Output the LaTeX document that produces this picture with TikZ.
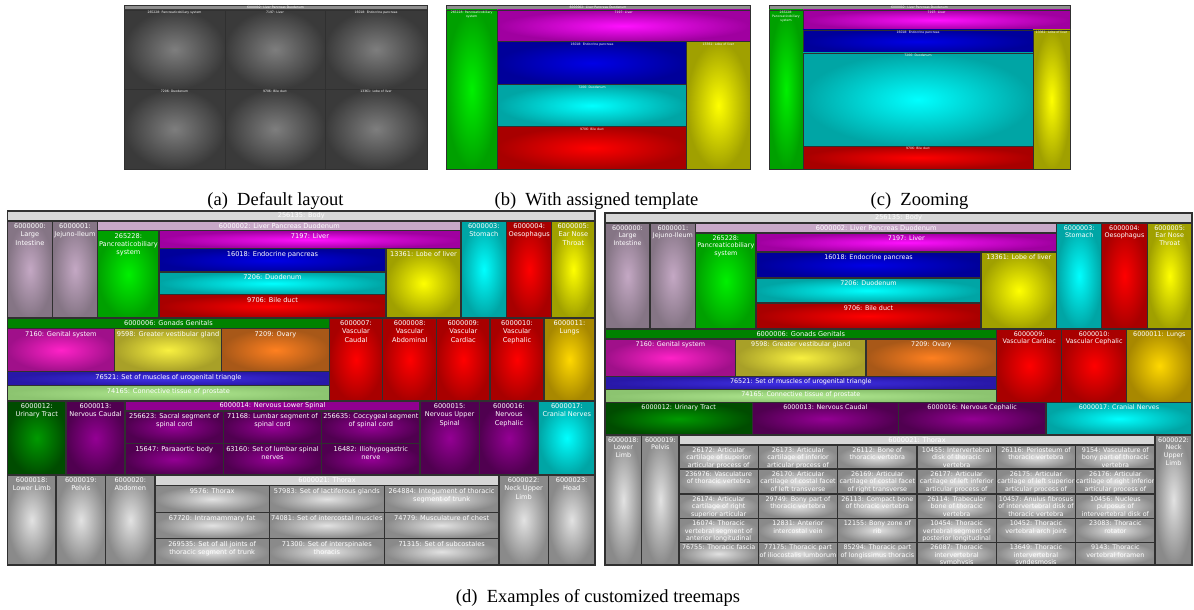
\documentclass[tikz,border=0pt]{standalone}
\usepackage{fontspec}
\newfontfamily\tmfont{DejaVu Sans}
\newfontfamily\capfont{Liberation Serif}
\definecolor{bord}{HTML}{303030}
\definecolor{mauveI}{HTML}{C4A8C4}\definecolor{mauveO}{HTML}{857585}
\definecolor{mauveH}{HTML}{C8A8C8}
\definecolor{greenI}{HTML}{00F000}\definecolor{greenO}{HTML}{00A000}
\definecolor{magI}{HTML}{FF10FF}\definecolor{magO}{HTML}{A000A0}
\definecolor{blueI}{HTML}{0000E6}\definecolor{blueO}{HTML}{00009A}
\definecolor{cyanI}{HTML}{00FFFF}\definecolor{cyanO}{HTML}{00A5A5}
\definecolor{redI}{HTML}{FF0000}\definecolor{redO}{HTML}{A80000}
\definecolor{yelI}{HTML}{FFFF00}\definecolor{yelO}{HTML}{A0A000}
\definecolor{gonH}{HTML}{008200}
\definecolor{pinkI}{HTML}{FF22C8}\definecolor{pinkO}{HTML}{A0108A}
\definecolor{yeltI}{HTML}{F8F040}\definecolor{yeltO}{HTML}{A8A028}
\definecolor{oraI}{HTML}{FF8020}\definecolor{oraO}{HTML}{A85818}
\definecolor{violI}{HTML}{4030E8}\definecolor{violO}{HTML}{2818A8}
\definecolor{lgrI}{HTML}{B0E890}\definecolor{lgrO}{HTML}{8CC470}
\definecolor{goldI}{HTML}{FFD800}\definecolor{goldO}{HTML}{A88800}
\definecolor{dgrI}{HTML}{009A00}\definecolor{dgrO}{HTML}{004C00}
\definecolor{purI}{HTML}{940094}\definecolor{purO}{HTML}{500050}
\definecolor{purH}{HTML}{900090}
\definecolor{grayI}{HTML}{E2E2E2}\definecolor{grayO}{HTML}{8A8A8A}
\definecolor{hdr}{HTML}{D6D6D6}
\definecolor{darkI}{HTML}{7E7E7E}\definecolor{darkO}{HTML}{3A3A3A}
\definecolor{panH}{HTML}{8E8E8E}
\def\cellw{1.1pt}
\tikzset{
 cell/.style 2 args={inner color=#1, outer color=#2, draw=bord, line width=\cellw},
 labL/.style={anchor=north, inner sep=0pt, yshift=-2.5pt, align=center, text=white, font=\tmfont\fontsize{6.6}{8.2}\selectfont},
 labR/.style={anchor=north, inner sep=0pt, yshift=-2.2pt, align=center, text=white, font=\tmfont\fontsize{6.4}{7.7}\selectfont},
 labS/.style={anchor=north, inner sep=0pt, yshift=-1.3pt, align=center, text=white, font=\tmfont\fontsize{3.1}{3.6}\selectfont},
 hdL/.style={anchor=center, inner sep=0pt, text=white, font=\tmfont\fontsize{6.6}{8}\selectfont},
 hdS/.style={anchor=center, inner sep=0pt, text=white, font=\tmfont\fontsize{3.1}{3.6}\selectfont},
 captext/.style={inner sep=0pt, font=\capfont\fontsize{18.5}{20}\selectfont}
}
\newcounter{cc}
\newcommand\tmcell[8]{%
  \stepcounter{cc}%
  \path[cell={#5}{#6}] (#1,#2) rectangle (#3,#4);
  \begin{scope}
    \clip (#1,#2) rectangle (#3,#4);
    \node[#8] (c\arabic{cc}) at ({(#1+#3)/2},#2) {#7};
  \end{scope}}
\newcommand\tmhead[7]{%
  \stepcounter{cc}%
  \path[fill=#5, draw=bord, line width=\cellw] (#1,#2) rectangle (#3,#4);
  \node[#7] (c\arabic{cc}) at ({(#1+#3)/2},{(#2+#4)/2}) {#6};}
\begin{document}
\begin{tikzpicture}[x=1pt,y=-1pt]
\useasboundingbox (0,0) rectangle (1194,610);
\fill[white] (0,0) rectangle (1194,610);

% ---------- (a) default layout ----------
\begin{scope}
\def\cellw{0.7pt}
\tmhead{124}{5}{427}{10}{panH}{6000002: Liver Pancreas Duodenum}{hdS}
\tmcell{124}{10}{225}{89}{darkI}{darkO}{265228: Pancreaticobiliary system}{labS}
\tmcell{225}{10}{325}{89}{darkI}{darkO}{7197: Liver}{labS}
\tmcell{325}{10}{427}{89}{darkI}{darkO}{16018: Endocrine pancreas}{labS}
\tmcell{124}{89}{225}{169}{darkI}{darkO}{7206: Duodenum}{labS}
\tmcell{225}{89}{325}{169}{darkI}{darkO}{9706: Bile duct}{labS}
\tmcell{325}{89}{427}{169}{darkI}{darkO}{13361: Lobe of liver}{labS}
\end{scope}

% ---------- (b) assigned template ----------
\begin{scope}
\def\cellw{0.7pt}
\tmhead{446}{5}{750}{10}{panH}{6000002: Liver Pancreas Duodenum}{hdS}
\tmcell{446}{10}{497.3}{169}{greenI}{greenO}{265228: Pancreaticobiliary\\system}{labS}
\tmcell{497.3}{10}{750}{41.7}{magI}{magO}{7197: Liver}{labS}
\tmcell{497.3}{41.7}{686.7}{84.3}{blueI}{blueO}{16018: Endocrine pancreas}{labS}
\tmcell{497.3}{84.3}{686.7}{126.7}{cyanI}{cyanO}{7206: Duodenum}{labS}
\tmcell{497.3}{126.7}{686.7}{169}{redI}{redO}{9706: Bile duct}{labS}
\tmcell{686.7}{41.7}{750}{169}{yelI}{yelO}{13361: Lobe of liver}{labS}
\end{scope}

% ---------- (c) zooming ----------
\begin{scope}
\def\cellw{0.7pt}
\tmhead{769}{5}{1070}{10}{panH}{6000002: Liver Pancreas Duodenum}{hdS}
\tmcell{769}{10}{803}{169}{greenI}{greenO}{265228:\\Pancreaticobiliary\\system}{labS}
\tmcell{803}{10}{1070}{30}{magI}{magO}{7197: Liver}{labS}
\tmcell{803}{30}{1033}{53}{blueI}{blueO}{16018: Endocrine pancreas}{labS}
\tmcell{803}{53}{1033}{146}{cyanI}{cyanO}{7206: Duodenum}{labS}
\tmcell{803}{146}{1033}{169}{redI}{redO}{9706: Bile duct}{labS}
\tmcell{1033}{30}{1070}{169}{yelI}{yelO}{13361: Lobe of liver}{labS}
\end{scope}

\node[captext] (capa) at (275.5,201) {(a)\enspace Default layout};
\node[captext] (capb) at (596.5,201) {(b)\enspace With assigned template};
\node[captext] (capc) at (919.5,201) {(c)\enspace Zooming};

% ---------- (d) left treemap ----------
\tmhead{7.5}{211}{595}{221}{hdr}{256135: Body}{hdL}
\tmcell{7.5}{221}{52.3}{318}{mauveI}{mauveO}{6000000:\\Large\\Intestine}{labL}
\tmcell{52.3}{221}{97.7}{318}{mauveI}{mauveO}{6000001:\\Jejuno-Ileum}{labL}
\tmhead{97.7}{221}{461}{230.7}{mauveH}{6000002: Liver Pancreas Duodenum}{hdL}
\tmcell{97.7}{230.7}{159}{318}{greenI}{greenO}{265228:\\Pancreaticobiliary\\system}{labL}
\tmcell{159}{230.7}{461}{248.7}{magI}{magO}{7197: Liver}{labL}
\tmcell{159}{248.7}{386}{272}{blueI}{blueO}{16018: Endocrine pancreas}{labL}
\tmcell{159}{272}{386}{294.7}{cyanI}{cyanO}{7206: Duodenum}{labL}
\tmcell{159}{294.7}{386}{318}{redI}{redO}{9706: Bile duct}{labL}
\tmcell{386}{248.7}{461}{318}{yelI}{yelO}{13361: Lobe of liver}{labL}
\tmcell{461}{221}{506.7}{318}{cyanI}{cyanO}{6000003:\\Stomach}{labL}
\tmcell{506.7}{221}{551.7}{318}{redI}{redO}{6000004:\\Oesophagus}{labL}
\tmcell{551.7}{221}{595}{318}{yelI}{yelO}{6000005:\\Ear Nose\\Throat}{labL}

\tmhead{7.5}{318}{329.3}{328.7}{gonH}{6000006: Gonads Genitals}{hdL}
\tmcell{7.5}{328.7}{114.3}{371.3}{pinkI}{pinkO}{7160: Genital system}{labL}
\tmcell{114.3}{328.7}{221.7}{371.3}{yeltI}{yeltO}{9598: Greater vestibular gland}{labL}
\tmcell{221.7}{328.7}{329.3}{371.3}{oraI}{oraO}{7209: Ovary}{labL}
\tmcell{7.5}{371.3}{329.3}{385.7}{violI}{violO}{76521: Set of muscles of urogenital triangle}{labL}
\tmcell{7.5}{385.7}{329.3}{401}{lgrI}{lgrO}{74165: Connective tissue of prostate}{labL}
\tmcell{329.3}{318}{382.7}{401}{redI}{redO}{6000007:\\Vascular\\Caudal}{labL}
\tmcell{382.7}{318}{436.7}{401}{redI}{redO}{6000008:\\Vascular\\Abdominal}{labL}
\tmcell{436.7}{318}{490}{401}{redI}{redO}{6000009:\\Vascular\\Cardiac}{labL}
\tmcell{490}{318}{544}{401}{redI}{redO}{6000010:\\Vascular\\Cephalic}{labL}
\tmcell{544}{318}{595}{401}{goldI}{goldO}{6000011:\\Lungs}{labL}

\tmcell{7.5}{401}{66}{475}{dgrI}{dgrO}{6000012:\\Urinary Tract}{labL}
\tmcell{66}{401}{125}{475}{purI}{purO}{6000013:\\Nervous Caudal}{labL}
\tmhead{125}{401}{420}{411}{purH}{6000014: Nervous Lower Spinal}{hdL}
\tmcell{125}{411}{223.3}{443.3}{purI}{purO}{256623: Sacral segment of\\spinal cord}{labL}
\tmcell{223.3}{411}{321.7}{443.3}{purI}{purO}{71168: Lumbar segment of\\spinal cord}{labL}
\tmcell{321.7}{411}{420}{443.3}{purI}{purO}{256635: Coccygeal segment\\of spinal cord}{labL}
\tmcell{125}{443.3}{223.3}{475}{purI}{purO}{15647: Paraaortic body}{labL}
\tmcell{223.3}{443.3}{321.7}{475}{purI}{purO}{63160: Set of lumbar spinal\\nerves}{labL}
\tmcell{321.7}{443.3}{420}{475}{purI}{purO}{16482: Iliohypogastric\\nerve}{labL}
\tmcell{420}{401}{479.3}{475}{purI}{purO}{6000015:\\Nervous Upper\\Spinal}{labL}
\tmcell{479.3}{401}{538.7}{475}{purI}{purO}{6000016:\\Nervous\\Cephalic}{labL}
\tmcell{538.7}{401}{595}{475}{cyanI}{cyanO}{6000017:\\Cranial Nerves}{labL}

\tmcell{7.5}{475}{56}{565}{grayI}{grayO}{6000018:\\Lower Limb}{labL}
\tmcell{56}{475}{105.7}{565}{grayI}{grayO}{6000019:\\Pelvis}{labL}
\tmcell{105.7}{475}{155}{565}{grayI}{grayO}{6000020:\\Abdomen}{labL}
\tmhead{155}{475}{499}{485.7}{hdr}{6000021: Thorax}{hdL}
\tmcell{155}{485.7}{269.3}{512.3}{grayI}{grayO}{9576: Thorax}{labL}
\tmcell{269.3}{485.7}{384.3}{512.3}{grayI}{grayO}{57983: Set of lactiferous glands}{labL}
\tmcell{384.3}{485.7}{499}{512.3}{grayI}{grayO}{264884: Integument of thoracic\\segment of trunk}{labL}
\tmcell{155}{512.3}{269.3}{538.3}{grayI}{grayO}{67720: Intramammary fat}{labL}
\tmcell{269.3}{512.3}{384.3}{538.3}{grayI}{grayO}{74081: Set of intercostal muscles}{labL}
\tmcell{384.3}{512.3}{499}{538.3}{grayI}{grayO}{74779: Musculature of chest}{labL}
\tmcell{155}{538.3}{269.3}{565}{grayI}{grayO}{269535: Set of all joints of\\thoracic segment of trunk}{labL}
\tmcell{269.3}{538.3}{384.3}{565}{grayI}{grayO}{71300: Set of interspinales\\thoracis}{labL}
\tmcell{384.3}{538.3}{499}{565}{grayI}{grayO}{71315: Set of subcostales}{labL}
\tmcell{499}{475}{548.3}{565}{grayI}{grayO}{6000022:\\Neck Upper\\Limb}{labL}
\tmcell{548.3}{475}{595}{565}{grayI}{grayO}{6000023:\\Head}{labL}
\draw[bord, line width=1.4pt] (7.5,211) rectangle (595,565);

% ---------- (d) right treemap ----------
\tmhead{605}{213}{1192}{223}{hdr}{256135: Body}{hdL}
\tmcell{605}{223}{650}{329}{mauveI}{mauveO}{6000000:\\Large\\Intestine}{labR}
\tmcell{650}{223}{695.7}{329}{mauveI}{mauveO}{6000001:\\Jejuno-Ileum}{labR}
\tmhead{695.7}{223}{1056.7}{233}{mauveH}{6000002: Liver Pancreas Duodenum}{hdL}
\tmcell{695.7}{233}{756}{329}{greenI}{greenO}{265228:\\Pancreaticobiliary\\system}{labR}
\tmcell{756}{233}{1056.7}{252}{magI}{magO}{7197: Liver}{labR}
\tmcell{756}{252}{981}{278}{blueI}{blueO}{16018: Endocrine pancreas}{labR}
\tmcell{756}{278}{981}{303}{cyanI}{cyanO}{7206: Duodenum}{labR}
\tmcell{756}{303}{981}{329}{redI}{redO}{9706: Bile duct}{labR}
\tmcell{981}{252}{1056.7}{329}{yelI}{yelO}{13361: Lobe of liver}{labR}
\tmcell{1056.7}{223}{1101.7}{329}{cyanI}{cyanO}{6000003:\\Stomach}{labR}
\tmcell{1101.7}{223}{1147.3}{329}{redI}{redO}{6000004:\\Oesophagus}{labR}
\tmcell{1147.3}{223}{1192}{329}{yelI}{yelO}{6000005:\\Ear Nose\\Throat}{labR}

\tmhead{605}{329}{996.7}{339}{gonH}{6000006: Gonads Genitals}{hdL}
\tmcell{605}{339}{735.7}{376.3}{pinkI}{pinkO}{7160: Genital system}{labR}
\tmcell{735.7}{339}{866}{376.3}{yeltI}{yeltO}{9598: Greater vestibular gland}{labR}
\tmcell{866}{339}{996.7}{376.3}{oraI}{oraO}{7209: Ovary}{labR}
\tmcell{605}{376.3}{996.7}{389.7}{violI}{violO}{76521: Set of muscles of urogenital triangle}{labR}
\tmcell{605}{389.7}{996.7}{402.3}{lgrI}{lgrO}{74165: Connective tissue of prostate}{labR}
\tmcell{996.7}{329}{1061.7}{402.3}{redI}{redO}{6000009:\\Vascular Cardiac}{labR}
\tmcell{1061.7}{329}{1126.7}{402.3}{redI}{redO}{6000010:\\Vascular Cephalic}{labR}
\tmcell{1126.7}{329}{1192}{402.3}{goldI}{goldO}{6000011: Lungs}{labR}

\tmcell{605}{402.3}{752.3}{435}{dgrI}{dgrO}{6000012: Urinary Tract}{labR}
\tmcell{752.3}{402.3}{898.3}{435}{purI}{purO}{6000013: Nervous Caudal}{labR}
\tmcell{898.3}{402.3}{1046}{435}{purI}{purO}{6000016: Nervous Cephalic}{labR}
\tmcell{1046}{402.3}{1192}{435}{cyanI}{cyanO}{6000017: Cranial Nerves}{labR}

\tmcell{605}{435}{641.7}{565}{grayI}{grayO}{6000018:\\Lower\\Limb}{labR}
\tmcell{641.7}{435}{679}{565}{grayI}{grayO}{6000019:\\Pelvis}{labR}
\tmhead{679}{435}{1155}{445}{hdr}{6000021: Thorax}{hdL}
% row 1
\tmcell{679}{445}{758.3}{469}{grayI}{grayO}{26172: Articular\\cartilage of superior\\articular process of}{labR}
\tmcell{758.3}{445}{837.7}{469}{grayI}{grayO}{26173: Articular\\cartilage of inferior\\articular process of}{labR}
\tmcell{837.7}{445}{917}{469}{grayI}{grayO}{26112: Bone of\\thoracic vertebra}{labR}
\tmcell{917}{445}{996.3}{469}{grayI}{grayO}{10455: Intervertebral\\disk of thoracic\\vertebra}{labR}
\tmcell{996.3}{445}{1075.7}{469}{grayI}{grayO}{26116: Periosteum of\\thoracic vertebra}{labR}
\tmcell{1075.7}{445}{1155}{469}{grayI}{grayO}{9154: Vasculature of\\bony part of thoracic\\vertebra}{labR}
% row 2
\tmcell{679}{469}{758.3}{494}{grayI}{grayO}{236976: Vasculature\\of thoracic vertebra}{labR}
\tmcell{758.3}{469}{837.7}{494}{grayI}{grayO}{26170: Articular\\cartilage of costal facet\\of left transverse}{labR}
\tmcell{837.7}{469}{917}{494}{grayI}{grayO}{26169: Articular\\cartilage of costal facet\\of right transverse}{labR}
\tmcell{917}{469}{996.3}{494}{grayI}{grayO}{26177: Articular\\cartilage of left inferior\\articular process of}{labR}
\tmcell{996.3}{469}{1075.7}{494}{grayI}{grayO}{26175: Articular\\cartilage of left superior\\articular process of}{labR}
\tmcell{1075.7}{469}{1155}{494}{grayI}{grayO}{26176: Articular\\cartilage of right inferior\\articular process of}{labR}
% row 3
\tmcell{679}{494}{758.3}{518.3}{grayI}{grayO}{26174: Articular\\cartilage of right\\superior articular}{labR}
\tmcell{758.3}{494}{837.7}{518.3}{grayI}{grayO}{29749: Bony part of\\thoracic vertebra}{labR}
\tmcell{837.7}{494}{917}{518.3}{grayI}{grayO}{26113: Compact bone\\of thoracic vertebra}{labR}
\tmcell{917}{494}{996.3}{518.3}{grayI}{grayO}{26114: Trabecular\\bone of thoracic\\vertebra}{labR}
\tmcell{996.3}{494}{1075.7}{518.3}{grayI}{grayO}{10457: Anulus fibrosus\\of intervertebral disk of\\thoracic vertebra}{labR}
\tmcell{1075.7}{494}{1155}{518.3}{grayI}{grayO}{10456: Nucleus\\pulposus of\\intervertebral disk of}{labR}
% row 4
\tmcell{679}{518.3}{758.3}{542.3}{grayI}{grayO}{16074: Thoracic\\vertebral segment of\\anterior longitudinal}{labR}
\tmcell{758.3}{518.3}{837.7}{542.3}{grayI}{grayO}{12831: Anterior\\intercostal vein}{labR}
\tmcell{837.7}{518.3}{917}{542.3}{grayI}{grayO}{12155: Bony zone of\\rib}{labR}
\tmcell{917}{518.3}{996.3}{542.3}{grayI}{grayO}{10454: Thoracic\\vertebral segment of\\posterior longitudinal}{labR}
\tmcell{996.3}{518.3}{1075.7}{542.3}{grayI}{grayO}{10452: Thoracic\\vertebral arch joint}{labR}
\tmcell{1075.7}{518.3}{1155}{542.3}{grayI}{grayO}{23083: Thoracic\\rotator}{labR}
% row 5
\tmcell{679}{542.3}{758.3}{565}{grayI}{grayO}{76755: Thoracic fascia}{labR}
\tmcell{758.3}{542.3}{837.7}{565}{grayI}{grayO}{77175: Thoracic part\\of iliocostalis lumborum}{labR}
\tmcell{837.7}{542.3}{917}{565}{grayI}{grayO}{85294: Thoracic part\\of longissimus thoracis}{labR}
\tmcell{917}{542.3}{996.3}{565}{grayI}{grayO}{26087: Thoracic\\intervertebral\\symphysis}{labR}
\tmcell{996.3}{542.3}{1075.7}{565}{grayI}{grayO}{13649: Thoracic\\intervertebral\\syndesmosis}{labR}
\tmcell{1075.7}{542.3}{1155}{565}{grayI}{grayO}{9143: Thoracic\\vertebral foramen}{labR}
\tmcell{1155}{435}{1192}{565}{grayI}{grayO}{6000022:\\Neck\\Upper\\Limb}{labR}
\draw[bord, line width=1.4pt] (605,213) rectangle (1192,565);

\node[captext] (capd) at (598,598) {(d)\enspace Examples of customized treemaps};
\end{tikzpicture}
\end{document}
